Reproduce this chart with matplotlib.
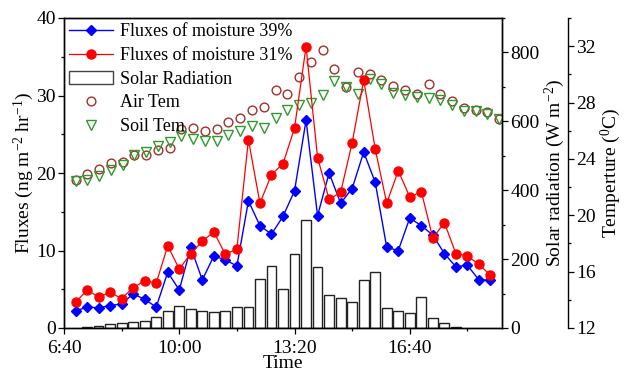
import numpy as np
import matplotlib
matplotlib.use("Agg")
import matplotlib.pyplot as plt
from matplotlib.patches import Patch
from matplotlib.lines import Line2D
from matplotlib.ticker import MultipleLocator, FixedLocator

plt.rcParams['font.family'] = ['Liberation Serif', 'DejaVu Serif']
plt.rcParams['mathtext.fontset'] = 'custom'
plt.rcParams['mathtext.rm'] = 'Liberation Serif'
plt.rcParams['mathtext.it'] = 'Liberation Serif:italic'

# time in minutes after midnight (7:00 .. 19:00, every 20 min)
flux_times = np.arange(420, 1141, 20)
flux_39 = [2.2, 2.7, 2.6, 2.9, 3.1, 4.4, 3.7, 2.7, 7.2, 4.9, 10.4, 6.2, 9.3,
           8.8, 8.0, 16.4, 13.2, 12.1, 14.4, 17.7, 26.8, 14.5, 20.0, 16.1,
           18.0, 22.7, 18.8, 10.4, 10.0, 14.2, 13.2, 12.0, 9.6, 7.9, 8.1,
           6.2, 6.2]
flux_31 = [3.3, 4.9, 4.0, 4.6, 3.8, 5.2, 6.1, 5.8, 10.6, 7.6, 9.6, 11.2, 12.4,
           9.5, 10.2, 24.3, 16.1, 19.8, 21.2, 25.8, 36.3, 22.0, 16.6, 17.5,
           23.9, 32.0, 23.1, 16.1, 20.3, 16.9, 17.6, 11.6, 13.6, 9.6, 9.3,
           8.2, 6.8]

# solar radiation, 7:20 .. 18:00
solar_times = np.arange(440, 1081, 20)
solar = [3.9, 6.8, 10.6, 13.5, 16.4, 21.3, 32.9, 49.3, 63.9, 55.0, 49.3,
         45.5, 49.3, 61.9, 61.9, 142.0, 181.0, 114.5, 214.8, 314.0, 178.0,
         95.8, 86.2, 76.4, 139.3, 163.5, 59.0, 50.7, 42.6, 90.5, 30.0, 13.5,
         2.9]

# temperatures (slightly different time stamps)
temp_times = np.linspace(420, 1155, 37)
air_tem = [22.5, 22.9, 23.3, 23.7, 23.8, 24.3, 24.3, 24.6, 24.8, 26.1, 26.2,
           26.0, 26.1, 26.6, 26.9, 27.5, 27.7, 28.9, 28.6, 29.8, 30.9, 31.7,
           30.4, 29.1, 30.2, 30.0, 29.6, 29.2, 28.9, 28.6, 29.3, 28.6, 28.1,
           27.6, 27.5, 27.3, 26.8]
soil_tem = [22.4, 22.5, 22.8, 23.2, 23.6, 24.3, 24.5, 24.9, 25.2, 25.6, 25.4,
            25.3, 25.3, 25.7, 26.0, 26.3, 26.2, 26.9, 27.5, 27.8, 28.0, 28.5,
            29.5, 29.1, 28.6, 29.7, 29.3, 28.7, 28.5, 28.4, 28.3, 28.2, 27.8,
            27.4, 27.4, 27.2, 26.8]

xticks = [400, 600, 800, 1000]
xtick_labels = ['6:40', '10:00', '13:20', '16:40']

fs = 14
fig = plt.figure(figsize=(6.26, 3.72), dpi=100)
ax = fig.add_axes([64 / 626, 1 - 328 / 372, 438 / 626, 310 / 372])
ax_s = ax.twinx()
ax_t = ax.twinx()

# solar bars (behind)
ax_s.bar(solar_times, solar, width=17, color='white', edgecolor='#222222',
         linewidth=1.0)
ax_s.set_ylim(0, 900)
ax_s.yaxis.set_major_locator(MultipleLocator(200))
ax_s.yaxis.set_minor_locator(MultipleLocator(100))
ax_s.set_ylabel('Solar radiation (W m$^{-2}$)', fontsize=fs, labelpad=2)

# temperature
ax_t.plot(temp_times, air_tem, 'o', mfc='none', mec='#a0302d', ms=6.3, mew=1.0)
ax_t.plot(temp_times, soil_tem, 'v', mfc='none', mec='#2e9a2e', ms=6.8, mew=1.0)
ax_t.set_ylim(12, 34)
ax_t.yaxis.set_major_locator(MultipleLocator(4))
ax_t.yaxis.set_minor_locator(MultipleLocator(2))
ax_t.spines['right'].set_position(('axes', 1.151))
for s in ['top', 'bottom', 'left']:
    ax_t.spines[s].set_visible(False)
ax_t.set_ylabel('Temperture ($^{0}$C)', fontsize=fs, labelpad=2)

# fluxes on top
ax.plot(flux_times, flux_39, '-D', color='#0000ff', lw=1.0, ms=5.5)
ax.plot(flux_times, flux_31, '-o', color='#ff0000', lw=0.9, ms=6.5)
ax.set_zorder(ax_s.get_zorder() + 2)
ax.patch.set_visible(False)
ax.set_ylim(0, 40)
ax.set_xlim(400, 1160)
ax.yaxis.set_major_locator(MultipleLocator(10))
ax.yaxis.set_minor_locator(MultipleLocator(5))
ax.set_xticks(xticks)
ax.set_xticklabels(xtick_labels)
ax.xaxis.set_minor_locator(FixedLocator([500, 700, 900, 1100]))
ax.set_ylabel('Fluxes (ng m$^{-2}$ hr$^{-1}$)', fontsize=fs)
ax.yaxis.set_label_coords(-0.064, 0.5)
ax.set_xlabel('Time', fontsize=fs, labelpad=-1.5)

for a in (ax, ax_s, ax_t):
    a.tick_params(which='major', direction='out', length=4.5, width=0.9,
                  labelsize=fs, pad=1.5)
    a.tick_params(which='minor', direction='out', length=2.5, width=0.9)
    for sp in a.spines.values():
        sp.set_linewidth(1.0)
ax.tick_params(top=False, right=False, which='both')
ax.tick_params(axis='x', pad=4.0)

handles = [
    Line2D([], [], color='#0000ff', marker='D', lw=1.0, ms=5.5),
    Line2D([], [], color='#ff0000', marker='o', lw=0.9, ms=6.5),
    Patch(facecolor='white', edgecolor='#444444', linewidth=1.0),
    Line2D([], [], ls='none', marker='o', mfc='none', mec='#a0302d', ms=6.3),
    Line2D([], [], ls='none', marker='v', mfc='none', mec='#2e9a2e', ms=6.8),
]
labels = ['Fluxes of moisture 39%', 'Fluxes of moisture 31%',
          'Solar Radiation', 'Air Tem', 'Soil Tem']
ax.legend(handles, labels, loc='upper left', frameon=False, fontsize=13,
          borderaxespad=0.05, handlelength=2.4, handletextpad=0.4,
          labelspacing=0.37, borderpad=0.25)

fig.savefig('out.png', dpi=100)
